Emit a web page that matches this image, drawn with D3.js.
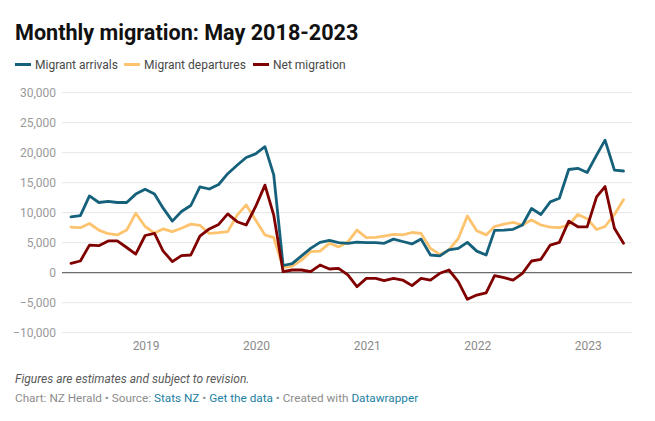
<!DOCTYPE html>
<html><head><meta charset="utf-8">
<script src="https://cdn.jsdelivr.net/npm/d3@7"></script>
<style>
body{margin:0;background:#fff;}
svg{display:block;font-family:Roboto,"Noto Sans",sans-serif;}
</style></head>
<body><svg id="c" width="655" height="421"></svg>
<script>
const months = ["2018-05","2018-06","2018-07","2018-08","2018-09","2018-10","2018-11","2018-12",
"2019-01","2019-02","2019-03","2019-04","2019-05","2019-06","2019-07","2019-08","2019-09","2019-10","2019-11","2019-12",
"2020-01","2020-02","2020-03","2020-04","2020-05","2020-06","2020-07","2020-08","2020-09","2020-10","2020-11","2020-12",
"2021-01","2021-02","2021-03","2021-04","2021-05","2021-06","2021-07","2021-08","2021-09","2021-10","2021-11","2021-12",
"2022-01","2022-02","2022-03","2022-04","2022-05","2022-06","2022-07","2022-08","2022-09","2022-10","2022-11","2022-12",
"2023-01","2023-02","2023-03","2023-04","2023-05"];
const arrivals = [9300,9500,12800,11700,11900,11700,11700,13100,13900,13100,10800,8600,10200,11200,14300,13950,14700,16500,17900,19200,19800,21000,16300,1200,1500,2800,4050,5050,5400,5000,4900,5100,5000,5000,4900,5600,5200,4800,5600,2950,2800,3800,4050,5050,3600,2950,7060,7100,7230,7950,10700,9700,11800,12400,17200,17400,16700,19600,22100,17100,16950];
const departures = [7600,7500,8200,7100,6500,6300,7100,9900,7700,6600,7300,6850,7400,8100,7900,6560,6670,6840,9600,11300,8800,6300,5850,850,1100,2100,3500,3600,4900,4300,5150,7100,5850,5900,6100,6400,6300,6700,6550,4050,3050,3800,5700,9450,7000,6300,7700,8100,8400,7950,8800,7950,7600,7500,7950,9700,9000,7200,7700,9700,12150];
const net = [1560,1950,4600,4500,5300,5300,4200,3100,6200,6550,3650,1850,2850,2950,6100,7300,8050,9800,8500,7950,11000,14600,9600,170,450,450,170,1280,620,730,-380,-2330,-940,-940,-1330,-940,-1220,-2160,-940,-1220,-100,450,-1500,-4440,-3720,-3350,-500,-830,-1220,-100,1950,2230,4600,5050,8600,7650,7650,12650,14350,7400,4900];
const yTicks = [-10000,-5000,0,5000,10000,15000,20000,25000,30000];
const xTickYears = ["2019","2020","2021","2022","2023"];
const seriesNames = ["Migrant arrivals","Migrant departures","Net migration"];
const seriesColors = ["#15607a","#fec36e","#800000"];

const svg = d3.select("#c");
const parse = d3.timeParse("%Y-%m");
const dates = months.map(parse);

const x = d3.scaleTime().domain([dates[0], dates[dates.length-1]]).range([71, 623.5]);
const y = d3.scaleLinear().domain([-10000, 30000]).range([332.7, 92.7]);
const gridL = 62, gridR = 632;

// title
svg.append("text").attr("x",15).attr("y",40).attr("font-size",21.6).attr("font-weight",700)
  .attr("fill","#111").text("Monthly migration: May 2018-2023");

// legend
const legX = [15, 124, 253];
seriesNames.forEach((n,i)=>{
  svg.append("line").attr("x1",legX[i]).attr("x2",legX[i]+16).attr("y1",64.5).attr("y2",64.5)
    .attr("stroke",seriesColors[i]).attr("stroke-width",3);
  svg.append("text").attr("x",legX[i]+20).attr("y",69).attr("font-size",12).attr("fill","#494949").text(n);
});

// y grid + labels
const yAxis = svg.append("g");
yTicks.forEach(t=>{
  yAxis.append("line").attr("x1",gridL).attr("x2",gridR).attr("y1",y(t)).attr("y2",y(t))
    .attr("stroke", t===0 ? "#6b6b6b" : "#e6e6e6").attr("stroke-width", t===0 ? 1.3 : 1);
  yAxis.append("text").attr("x",56).attr("y",y(t)+4.2).attr("text-anchor","end")
    .attr("font-size",12).attr("fill","#9a9a9a").text(d3.format(",")(t).replace("-","\u2212"));
});

// x labels
xTickYears.forEach(yr=>{
  svg.append("text").attr("x",x(parse(yr+"-01"))+1).attr("y",350).attr("text-anchor","middle")
    .attr("font-size",12).attr("fill","#8a8a8a").text(yr);
});

// lines
const line = d3.line().x((d,i)=>x(dates[i])).y(d=>y(d)).curve(d3.curveLinear);
const order = [1,0,2];
const data = [arrivals, departures, net];
order.forEach(k=>{
  svg.append("path").datum(data[k]).attr("d",line).attr("fill","none")
    .attr("stroke",seriesColors[k]).attr("stroke-width",2.8).attr("stroke-linejoin","round").attr("stroke-linecap","round");
});

// footer
svg.append("text").attr("x",15).attr("y",383).attr("font-size",12).attr("font-style","italic")
  .attr("fill","#595959").text("Figures are estimates and subject to revision.");
const f = svg.append("text").attr("x",15).attr("y",402).attr("font-size",11.75).attr("fill","#8c8c8c");
const parts = [["Chart: NZ Herald \u2022 Source: ","#8c8c8c"],["Stats NZ","#1d81a2"],[" \u2022 ","#8c8c8c"],["Get the data","#1d81a2"],[" \u2022 Created with ","#8c8c8c"],["Datawrapper","#1d81a2"]];
parts.forEach(p=>f.append("tspan").attr("fill",p[1]).text(p[0]));
</script></body></html>
